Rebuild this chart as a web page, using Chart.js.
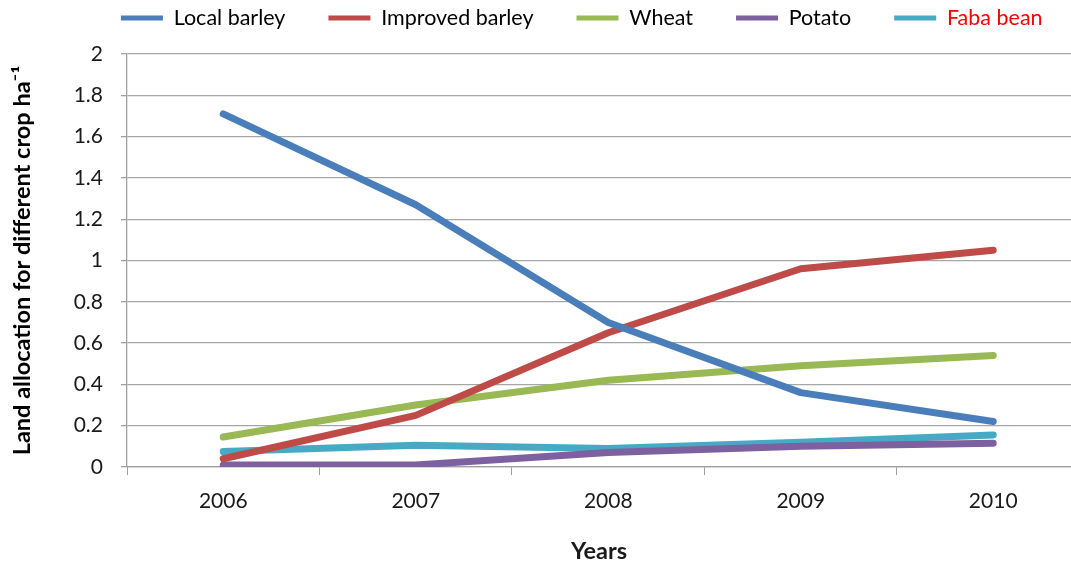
<!DOCTYPE html>
<html>
<head>
<meta charset="utf-8">
<script src="https://cdn.jsdelivr.net/npm/chart.js@4.4.1/dist/chart.umd.min.js"></script>
<style>
    html, body { margin: 0; padding: 0; background: #ffffff; overflow: hidden; }
    #wrap { width: 1071px; height: 563px; }
</style>
</head>
<body>
<div id="wrap"><canvas id="land_graph"></canvas></div>
<script>
// 年ごとの作付面積 (ha)
const years         = [2006, 2007, 2008, 2009, 2010];
const local_barley  = [1.71, 1.27, 0.70, 0.36, 0.22];
const impr_barley   = [0.04, 0.25, 0.65, 0.96, 1.05];
const wheat         = [0.145, 0.30, 0.42, 0.49, 0.54];
const potato        = [0.01, 0.01, 0.07, 0.10, 0.115];
const faba_bean     = [0.075, 0.105, 0.09, 0.12, 0.155];
const y_ticks       = [0, 0.2, 0.4, 0.6, 0.8, 1, 1.2, 1.4, 1.6, 1.8, 2];

const FONT = "Lato, 'Open Sans', sans-serif";

function to_points(values){
    let points = [];
    for (let i = 0; i < years.length; i++){
        points.push({ x: years[i], y: values[i] });
    }
    return points;
}

function make_dataset(label, values, color){
    return {
        label: label,
        data: to_points(values),
        borderColor: color,
        backgroundColor: color,
        borderWidth: 7,
        borderCapStyle: "round",
        borderJoinStyle: "round",
        pointRadius: 0,
        tension: 0
    };
}

// 凡例の位置を調整 (右端を広げて1行に収める)
const shift_legend = {
    id: "shift_legend",
    afterLayout(chart) {
        let legend = chart.legend;
        let h = legend.height;
        legend.left = -7.5;
        legend.right = 1171;
        legend.top = -35.75;
        legend.bottom = legend.top + h;
    }
};

window.addEventListener("load", function (){

    const ctx       = document.getElementById("land_graph").getContext("2d");
    const myChart   = new Chart(ctx, {
        type: "line",
        data: {
            datasets: [
                make_dataset("Local barley", local_barley, "#4a7ebb"),
                make_dataset("Improved barley", impr_barley, "#be4b48"),
                make_dataset("Wheat", wheat, "#98b954"),
                make_dataset("Potato", potato, "#7d60a0"),
                make_dataset("Faba bean", faba_bean, "#46aac5")
            ]
        },
        options: {
            responsive: true,
            maintainAspectRatio: false,
            animation: false,
            layout: { padding: { left: 0, right: 0, top: -20.5, bottom: -3 } },
            scales: {
                x: {
                    type: "linear",
                    min: 2005.5,
                    max: 2010.404,
                    afterBuildTicks: function(scale){
                        let ticks = [];
                        for (let v = 2005.5; v <= scale.max; v += 0.5){
                            ticks.push({ value: v });
                        }
                        scale.ticks = ticks;
                    },
                    afterFit: function(scale){ scale.height = 99; },
                    grid: {
                        drawOnChartArea: false,
                        tickLength: 8,
                        tickColor: function(c){
                            return (c.tick && Number.isInteger(c.tick.value)) ? "rgba(0,0,0,0)" : "#a0a0a0";
                        },
                        tickWidth: 1
                    },
                    border: { color: "#a0a0a0", width: 1.3 },
                    ticks: {
                        autoSkip: false,
                        maxRotation: 0,
                        padding: 14,
                        color: "#1a1a1a",
                        font: { family: FONT, size: 21 },
                        callback: function(value){
                            return Number.isInteger(value) ? String(value) : "";
                        }
                    },
                    title: {
                        display: true,
                        text: "Years",
                        color: "#1a1a1a",
                        font: { family: FONT, size: 23.5, weight: "bold" },
                        padding: { top: 0, bottom: 0 }
                    }
                },
                y: {
                    min: 0,
                    max: 2,
                    afterBuildTicks: function(scale){
                        scale.ticks = y_ticks.map(function(v){ return { value: v }; });
                    },
                    afterFit: function(scale){ scale.width = 127; },
                    grid: {
                        color: "#a6a6a6",
                        lineWidth: 1.3,
                        tickLength: 6,
                        tickColor: "#a0a0a0"
                    },
                    border: { color: "#a0a0a0", width: 1.3 },
                    ticks: {
                        padding: 18,
                        color: "#1a1a1a",
                        font: { family: FONT, size: 21 },
                        callback: function(value){ return String(value); }
                    },
                    title: {
                        display: true,
                        text: "Land allocation for different crop ha\u207B\u00B9",
                        color: "#000000",
                        font: { family: FONT, size: 23.5, weight: "bold" },
                        padding: { top: 8, bottom: 0 }
                    }
                }
            },
            plugins: {
                legend: {
                    display: true,
                    position: "top",
                    labels: {
                        boxWidth: 42,
                        boxHeight: 5,
                        padding: 43,
                        font: { family: FONT, size: 21.5 },
                        color: "#000000",
                        generateLabels: function(chart){
                            let items = Chart.defaults.plugins.legend.labels.generateLabels(chart);
                            for (let item of items){
                                item.lineWidth = 0;
                                item.fontColor = (item.text === "Faba bean") ? "#ff0000" : "#000000";
                            }
                            return items;
                        }
                    }
                },
                tooltip: { enabled: false }
            }
        },
        plugins: [ shift_legend ]
    });
});
</script>
</body>
</html>
